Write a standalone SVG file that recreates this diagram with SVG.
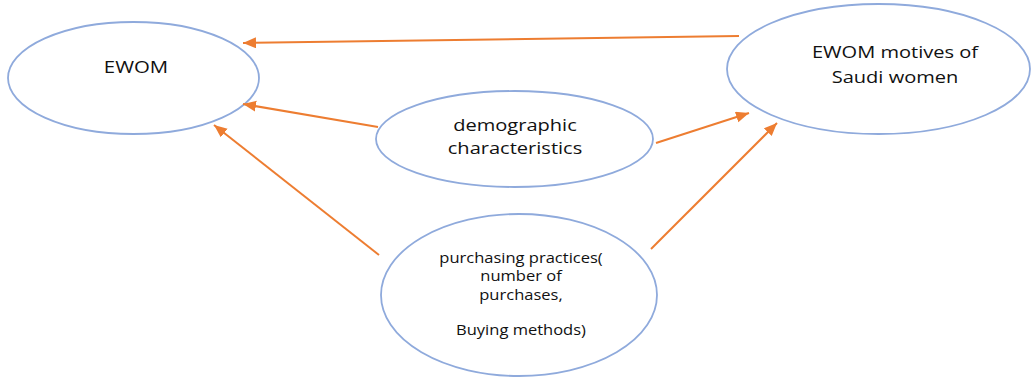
<svg xmlns="http://www.w3.org/2000/svg" width="1031" height="380" viewBox="0 0 1031 380">
  <style>
    .node { fill: #ffffff; stroke: #8faadc; stroke-width: 1.8; }
    .label { font-family: "Open Sans", "Noto Sans", sans-serif; fill: #111111; text-anchor: middle; }
    .big { font-size: 17px; }
    .small { font-size: 14px; }
    .edge { stroke: #ed7d31; stroke-width: 2; fill: none; marker-end: url(#arrow); }
  </style>
  <defs>
    <marker id="arrow" markerUnits="userSpaceOnUse" markerWidth="14" markerHeight="12" refX="13" refY="5.5" orient="auto">
      <path d="M0,0 L13,5.5 L0,11 Z" fill="#ed7d31"/>
    </marker>
  </defs>
  <rect width="1031" height="380" fill="#ffffff"/>

  <g id="node-ewom">
    <ellipse class="node" cx="133.5" cy="78" rx="125.5" ry="56"/>
    <text class="label big" transform="translate(136,73) scale(1.2,1)">EWOM</text>
  </g>

  <g id="node-motives">
    <ellipse class="node" cx="878.5" cy="69" rx="151.5" ry="65"/>
    <text class="label big" transform="translate(895,58) scale(1.18,1)">EWOM motives of</text>
    <text class="label big" transform="translate(895,83) scale(1.18,1)">Saudi women</text>
  </g>

  <g id="node-demographic">
    <ellipse class="node" cx="514.5" cy="139" rx="138.5" ry="48"/>
    <text class="label big" transform="translate(515,131) scale(1.18,1)">demographic</text>
    <text class="label big" transform="translate(515,154) scale(1.18,1)">characteristics</text>
  </g>

  <g id="node-purchasing">
    <ellipse class="node" cx="519" cy="295" rx="138" ry="81"/>
    <text class="label small" transform="translate(521,263) scale(1.18,1)">purchasing practices(</text>
    <text class="label small" transform="translate(521,281) scale(1.18,1)">number of</text>
    <text class="label small" transform="translate(521,300) scale(1.18,1)">purchases,</text>
    <text class="label small" transform="translate(521,335) scale(1.18,1)">Buying methods)</text>
  </g>

  <g id="connectors">
    <line class="edge" x1="739" y1="36" x2="243" y2="43"/>
    <line class="edge" x1="378" y1="127" x2="243" y2="104"/>
    <line class="edge" x1="379" y1="255" x2="214" y2="125"/>
    <line class="edge" x1="656" y1="143" x2="749" y2="113"/>
    <line class="edge" x1="651" y1="249" x2="777" y2="123"/>
  </g>
</svg>
